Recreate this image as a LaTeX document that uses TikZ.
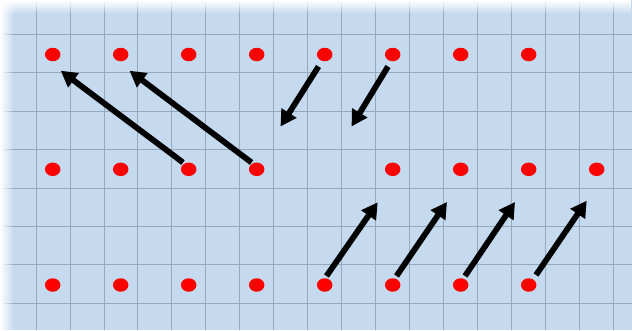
\documentclass[tikz,border=0pt]{standalone}
\usetikzlibrary{arrows.meta,fadings,shapes.geometric}
\definecolor{bgblue}{RGB}{197,218,238}
\definecolor{gridc}{RGB}{150,168,188}
\definecolor{dotred}{RGB}{255,0,0}
\tikzfading[name=fadetop, top color=transparent!0, bottom color=transparent!100]
\tikzfading[name=fadeleft, left color=transparent!0, right color=transparent!100]
\tikzset{
  dot/.style={fill=dotred, draw=none, ellipse, minimum width=15.5pt, minimum height=13.5pt, inner sep=0pt},
  arr/.style={line width=5.8pt, -{Triangle[length=16pt,width=17pt]}},
}
\begin{document}
\begin{tikzpicture}[x=1pt,y=-1pt]
\useasboundingbox (0,0) rectangle (632,330);
\fill[bgblue] (0,0) rectangle (632,330);
% grid
\foreach \i in {0,...,17} {
  \draw[gridc, line width=0.8pt] ({36+33.95*\i},0) -- ({36+33.95*\i},330);
}
\foreach \j in {0,...,7} {
  \draw[gridc, line width=0.8pt] (0,{34.3+38.4*\j}) -- (632,{34.3+38.4*\j});
}
% faded edges
\fill[white, path fading=fadetop] (0,0) rectangle (632,14);
\fill[white, path fading=fadeleft] (0,0) rectangle (14,330);
% dots
\foreach \c [count=\k from 0] in {52.7,120.7,188.7,256.7,324.7,392.7,460.7,528.7} {
  \node[dot] (t\k) at (\c,54.5) {};
  \node[dot] (b\k) at (\c,285) {};
}
\foreach \c/\k in {52.7/0,120.7/1,188.7/2,256.7/3,392.7/5,460.7/6,528.7/7,596.7/8} {
  \node[dot] (m\k) at (\c,169.3) {};
}
% arrow end coordinates
\coordinate (e1) at (60.7,70.7);
\coordinate (e2) at (129.5,70.7);
\coordinate (e3) at (280.5,126.5);
\coordinate (e4) at (351.5,126.5);
\coordinate (e5) at (377.7,202.3);
\coordinate (e6) at (447,202);
\coordinate (e7) at (515,202);
\coordinate (e8) at (586.7,200.7);
\coordinate (s1) at (183,162.5);
\coordinate (s2) at (251.5,162.5);
\coordinate (s3) at (318.5,66.5);
\coordinate (s4) at (388,66.5);
\coordinate (s5) at (326.5,276);
\coordinate (s6) at (396.5,276);
\coordinate (s7) at (465,276);
\coordinate (s8) at (536,275);
\foreach \n in {1,...,8} {
  \draw[arr] (s\n) -- (e\n);
}
\end{tikzpicture}
\end{document}
